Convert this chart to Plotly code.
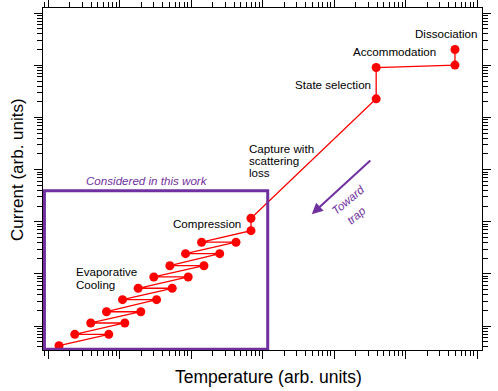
import plotly.graph_objects as go

# Data (arbitrary units), path order of the cycle
temperature = [4.92e5, 4.92e5, 3.89e4, 3.89e4, 690, 690,
               140.6, 425.6, 83.9, 251.8, 50.6, 151.7, 30.2, 91.4,
               18.24, 54.6, 11.02, 33.0, 6.58, 19.86, 3.96, 11.86,
               2.37, 7.08, 1.426]
current = [2.01e5, 1.01e5, 9.08e4, 2.28e4, 116.7, 67.5,
           40.5, 40.5, 24.4, 24.4, 14.35, 14.35, 8.73, 8.73,
           5.30, 5.30, 3.20, 3.20, 1.88, 1.88, 1.143, 1.143,
           0.693, 0.693, 0.419]

# "Considered in this work" box extent (data units)
box_temperature = [0.891, 1183]
box_current = [0.357, 395]

RED = "#FF0000"
PURPLE = "#7030A0"
FONT = "Liberation Sans, Arial, Helvetica, sans-serif"

fig = go.Figure()
fig.add_trace(go.Scatter(
    x=temperature, y=current, mode="lines+markers",
    line=dict(color=RED, width=1.3),
    marker=dict(color=RED, size=9),
    showlegend=False, hoverinfo="skip",
))

axis_common = dict(
    type="log", showline=True, linecolor="black", linewidth=1.3,
    mirror="allticks", ticks="outside", ticklen=8, tickwidth=1,
    tickcolor="black", dtick=1, tick0=0, showticklabels=False,
    showgrid=False, zeroline=False, automargin=False,
    minor=dict(ticks="outside", ticklen=5, tickwidth=1, tickcolor="black",
               dtick="D1", showgrid=False),
)
fig.update_xaxes(range=[-0.07, 6.07], **axis_common)
fig.update_yaxes(range=[-0.46, 6.10], **axis_common)

# Purple box
fig.add_shape(type="rect", xref="x", yref="y",
              x0=box_temperature[0], x1=box_temperature[1],
              y0=box_current[0], y1=box_current[1],
              line=dict(color=PURPLE, width=3), layer="above")

def lab(text, x, y, xanchor="center", color="black", italic=False, size=11.6, angle=0):
    fig.add_annotation(
        x=x, y=y, xref="x", yref="y", text=text, showarrow=False,
        xanchor=xanchor, yanchor="middle", textangle=angle,
        font=dict(family=FONT, size=size, color=color,
                  style="italic" if italic else "normal"),
    )

lab("Dissociation", 5.570, 5.618)
lab("Accommodation", 4.851, 5.269)
lab("State selection", 3.983, 4.626)
lab("Capture with", 2.779, 3.398, xanchor="left")
lab("scattering", 2.779, 3.167, xanchor="left")
lab("loss", 2.779, 2.943, xanchor="left")
lab("Compression", 2.727, 1.958, xanchor="right")
lab("Evaporative", 0.364, 1.042, xanchor="left")
lab("Cooling", 0.364, 0.800, xanchor="left")
lab("Considered in this work", 1.389, 2.789, color=PURPLE, italic=True)
lab("Toward", 4.197, 2.418, color=PURPLE, italic=True, angle=-40)
lab("trap", 4.319, 2.131, color=PURPLE, italic=True, angle=-40)

# Arrow toward trap
fig.add_annotation(
    x=3.689, y=2.144, ax=4.529, ay=3.200,
    xref="x", yref="y", axref="x", ayref="y",
    text="", showarrow=True, arrowhead=2, arrowsize=1.1,
    arrowwidth=2, arrowcolor=PURPLE,
)

# Axis titles
fig.add_annotation(x=(268 - 43) / 439, y=-26.7 / 342, xref="paper", yref="paper",
                   text="Temperature (arb. units)", showarrow=False,
                   xanchor="center", yanchor="middle",
                   font=dict(family=FONT, size=17.5, color="black"))
fig.add_annotation(x=(17 - 43) / 439, y=(350 - 170) / 342, xref="paper", yref="paper",
                   text="Current (arb. units)", showarrow=False, textangle=-90,
                   xanchor="center", yanchor="middle",
                   font=dict(family=FONT, size=17, color="black"))

fig.update_layout(
    width=498, height=391,
    margin=dict(l=43, r=16, t=8, b=41, autoexpand=False),
    paper_bgcolor="white", plot_bgcolor="white",
    font=dict(family=FONT, color="black"),
)

fig.write_html("out.html",
               config={"displayModeBar": False},
               post_script="document.body.style.margin='0';document.body.style.overflow='hidden';")
